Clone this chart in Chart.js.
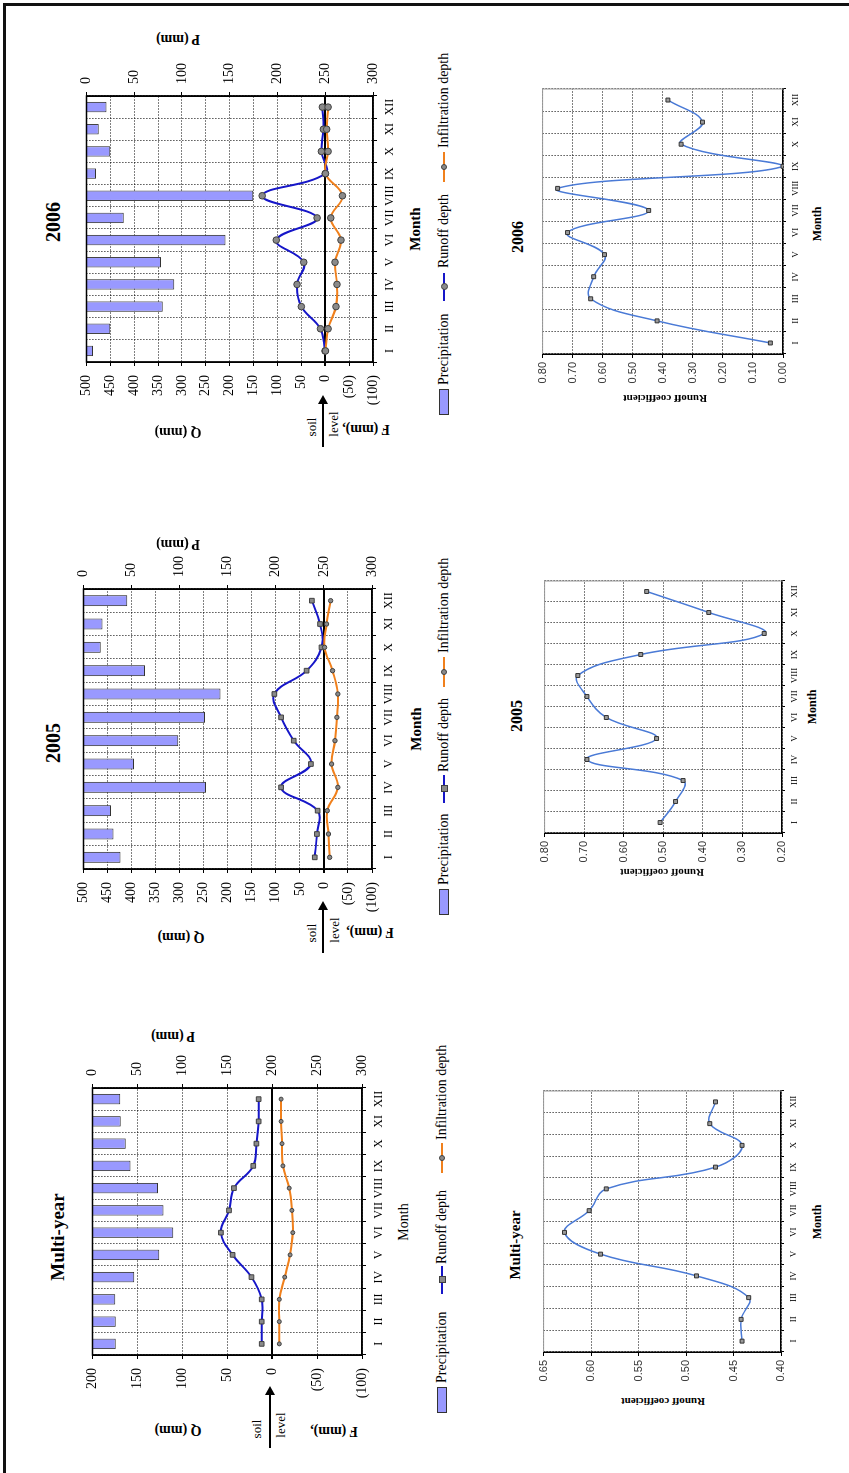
<!DOCTYPE html>
<html>
<head>
    <title>Runoff and infiltration charts</title>
    <script src="https://cdn.jsdelivr.net/npm/chart.js"></script>
    <style>
        html, body { margin: 0; padding: 0; background: #fff; }
        body { width: 849px; height: 1473px; overflow: hidden; position: relative; }
        #frame { position: absolute; left: 3px; top: 3px; width: 846px; height: 1470px;
                 border-top: 3px solid #111; border-left: 3px solid #111; }
        #page { position: absolute; left: 0; top: 0; width: 1473px; height: 849px;
                transform-origin: 0 0; transform: translateY(1473px) rotate(-90deg); }
        #page canvas { position: absolute; }
        .t { position: absolute; transform: translate(-50%, -50%); white-space: nowrap;
             font-family: 'Liberation Serif', serif; color: #000; }
        .r { transform: translate(-50%, -50%) rotate(-90deg); }
        .lg { position: absolute; white-space: nowrap; font: 14px 'Liberation Serif', serif;
              transform: translateY(-50%); }
        .box { position: absolute; background: #9999ff; border: 1px solid #333; box-sizing: border-box; }
        .ln { position: absolute; height: 2px; }
        .mk { position: absolute; background: #8a8a8a; border: 1px solid #404040; box-sizing: border-box; }
        .arrow { position: absolute; height: 2px; background: #000; }
        .arrow:after { content: ''; position: absolute; right: -2px; top: -4px;
                       border-left: 9px solid #000; border-top: 5px solid transparent; border-bottom: 5px solid transparent; }
    </style>
</head>
<body>
<div id="frame"></div>
<div id="page">
    <canvas id="comboMulti"></canvas>
    <canvas id="combo2005"></canvas>
    <canvas id="combo2006"></canvas>
    <canvas id="coefMulti"></canvas>
    <canvas id="coef2005"></canvas>
    <canvas id="coef2006"></canvas>

    <!-- combo chart texts -->
    <div class="t" style="left:236px;top:58px;font-weight:bold;font-size:19px">Multi-year</div>
    <div class="t r" style="left:43px;top:178px;font-weight:bold;font-size:14px">Q (mm)</div>
    <div class="t r" style="left:42px;top:334px;font-weight:bold;font-size:14px">F (mm),</div>
    <div class="t r" style="left:437px;top:173px;font-weight:bold;font-size:14px">P (mm)</div>
    <div class="t" style="left:251px;top:404px;font-size:14px">Month</div>
    <div class="t" style="left:44px;top:257px;font-size:13px">soil</div>
    <div class="t" style="left:48px;top:281px;font-size:13px">level</div>
    <div class="arrow" style="left:25px;top:269px;width:60px"></div>

    <div class="t" style="left:730px;top:53px;font-weight:bold;font-size:20px">2005</div>
    <div class="t r" style="left:536px;top:181px;font-weight:bold;font-size:14px">Q (mm)</div>
    <div class="t r" style="left:541px;top:370px;font-weight:bold;font-size:14px">F (mm),</div>
    <div class="t r" style="left:929px;top:178px;font-weight:bold;font-size:14px">P (mm)</div>
    <div class="t" style="left:744px;top:416px;font-size:15px;font-weight:bold">Month</div>
    <div class="t" style="left:540px;top:312px;font-size:13px">soil</div>
    <div class="t" style="left:543px;top:335px;font-size:13px">level</div>
    <div class="arrow" style="left:520px;top:322px;width:50px"></div>

    <div class="t" style="left:1251px;top:53px;font-weight:bold;font-size:20px">2006</div>
    <div class="t r" style="left:1041px;top:178px;font-weight:bold;font-size:14px">Q (mm)</div>
    <div class="t r" style="left:1044px;top:366px;font-weight:bold;font-size:14px">F (mm),</div>
    <div class="t r" style="left:1434px;top:178px;font-weight:bold;font-size:14px">P (mm)</div>
    <div class="t" style="left:1244px;top:415px;font-size:15px;font-weight:bold">Month</div>
    <div class="t" style="left:1046px;top:312px;font-size:13px">soil</div>
    <div class="t" style="left:1049px;top:334px;font-size:13px">level</div>
    <div class="arrow" style="left:1026px;top:322px;width:50px"></div>

    <!-- runoff coefficient texts -->
    <div class="t" style="left:228px;top:515px;font-weight:bold;font-size:15px">Multi-year</div>
    <div class="t r" style="left:71px;top:663px;font-weight:bold;font-size:11px">Runoff coefficient</div>
    <div class="t" style="left:251px;top:817px;font-weight:bold;font-size:12px">Month</div>

    <div class="t" style="left:757px;top:517px;font-weight:bold;font-size:16px">2005</div>
    <div class="t r" style="left:600px;top:662px;font-weight:bold;font-size:11px">Runoff coefficient</div>
    <div class="t" style="left:766px;top:812px;font-weight:bold;font-size:12px">Month</div>

    <div class="t" style="left:1236px;top:518px;font-weight:bold;font-size:16px">2006</div>
    <div class="t r" style="left:1074px;top:665px;font-weight:bold;font-size:11px">Runoff coefficient</div>
    <div class="t" style="left:1249px;top:817px;font-weight:bold;font-size:12px">Month</div>
</div>
<script>
    const months = ['I', 'II', 'III', 'IV', 'V', 'VI', 'VII', 'VIII', 'IX', 'X', 'XI', 'XII'];

    // multi-year averages (mm)
    const precipMulti = [26, 26, 25.5, 46.5, 74.5, 90, 79, 73, 42.5, 37, 31.5, 31];
    const runoffMulti = [11.6, 11.6, 11.6, 23, 44, 57, 48, 42.5, 21, 17.5, 15, 15];
    const infilMulti = [8, 8, 8, 14, 20, 23, 22, 19, 12, 11, 10, 10];

    // 2005 (mm)
    const precip2005 = [38.5, 31.4, 28.6, 127.5, 52.5, 98.5, 126.5, 142.5, 64, 18, 19.8, 45.7];
    const runoff2005 = [19, 14.5, 13, 89, 27, 62.7, 89, 103, 36, 5, 8, 25];
    const infil2005 = [12, 9.5, 7, 29, 16, 23, 27, 29, 18, 1.4, 5.5, 14];

    // 2006 (mm)
    const precip2006 = [7, 25, 80, 92, 78, 145.5, 39, 174.6, 10, 25, 13, 21];
    const runoff2006 = [0.4, 10, 50, 59, 45, 102.5, 17, 132, 0, 8, 3.8, 6];
    const infil2006 = [0.5, 6, 22.5, 24.6, 20.5, 33, 11.6, 36, 0.5, 6, 3, 6];

    // runoff coefficients
    const coefMulti = [0.441, 0.442, 0.434, 0.489, 0.590, 0.628, 0.602, 0.584, 0.469, 0.441, 0.475, 0.469];
    const coef2005 = [0.508, 0.469, 0.450, 0.693, 0.517, 0.644, 0.693, 0.716, 0.557, 0.245, 0.385, 0.542];
    const coef2006 = [0.042, 0.419, 0.640, 0.630, 0.594, 0.717, 0.447, 0.750, 0.000, 0.339, 0.268, 0.383];

    const serif = 'Liberation Serif';
    const sans = 'Liberation Sans';
    const dots = [1, 2];

    // stroke the plot area outline
    const framePlugin = {
        id: 'frameBox',
        afterDraw(chart, args, opts) {
            if (!opts.color) return;
            const a = chart.chartArea;
            const c = chart.ctx;
            c.save();
            c.strokeStyle = opts.color;
            c.lineWidth = opts.width;
            c.beginPath();
            if (opts.all) {
                c.rect(a.left, a.top, a.right - a.left, a.bottom - a.top);
            } else {
                c.moveTo(a.left, a.top);
                c.lineTo(a.right, a.top);
                c.lineTo(a.right, a.bottom);
            }
            c.stroke();
            c.restore();
        }
    };
    Chart.register(framePlugin);

    // put a canvas so its plot area lands on plot = [x, y, w, h]
    function place(id, plot, pad) {
        const cv = document.getElementById(id);
        cv.width = pad.l + plot[2] + pad.r;
        cv.height = pad.t + plot[3] + pad.b;
        cv.style.left = (plot[0] - pad.l) + 'px';
        cv.style.top = (plot[1] - pad.t) + 'px';
        cv.style.width = cv.width + 'px';
        cv.style.height = cv.height + 'px';
        return cv;
    }

    function qLabel(v) {
        return v < 0 ? '(' + (-v) + ')' : '' + v;
    }

    function isZero(c) {
        return c.tick && c.tick.value === 0;
    }

    function comboChart(id, plot, precip, runoff, infil, qMax, runShape, runR, infR) {
        const pad = { l: 46, r: 40, t: 12, b: 26 };
        const cv = place(id, plot, pad);
        return new Chart(cv, {
            data: {
                labels: months,
                datasets: [
                    {
                        type: 'line', label: 'Runoff depth', data: runoff, yAxisID: 'yQ', order: 1,
                        borderColor: '#1616c8', borderWidth: 2, tension: 0.4,
                        pointStyle: runShape, pointRadius: runR,
                        pointBackgroundColor: '#8a8a8a', pointBorderColor: '#404040', pointBorderWidth: 1
                    },
                    {
                        type: 'line', label: 'Infiltration depth', data: infil.map(v => -v), yAxisID: 'yQ', order: 0,
                        borderColor: '#f0801c', borderWidth: 2, tension: 0.4,
                        pointStyle: 'circle', pointRadius: infR,
                        pointBackgroundColor: '#8a8a8a', pointBorderColor: '#404040', pointBorderWidth: 1
                    },
                    {
                        type: 'bar', label: 'Precipitation', data: precip, yAxisID: 'yP', order: 2,
                        backgroundColor: '#9999ff', borderColor: '#333', borderWidth: 1,
                        barPercentage: 0.47, categoryPercentage: 1
                    }
                ]
            },
            options: {
                responsive: false,
                animation: false,
                events: [],
                layout: { padding: { top: pad.t, left: 0, right: 0, bottom: 0 } },
                plugins: {
                    legend: { display: false },
                    tooltip: { enabled: false },
                    frameBox: { color: '#000', width: 1.5, all: true }
                },
                scales: {
                    x: {
                        offset: true,
                        afterFit: s => { s.height = pad.b; },
                        grid: { offset: true, color: '#000', lineWidth: 1, tickLength: 4, tickColor: '#000', tickBorderDash: [] },
                        border: { color: '#000', width: 1.5, dash: dots },
                        ticks: { color: '#000', font: { family: serif, size: 12 }, padding: 6, maxRotation: 0, autoSkip: false }
                    },
                    yQ: {
                        position: 'left', min: -100, max: qMax,
                        afterFit: s => { s.width = pad.l; },
                        grid: {
                            color: '#000',
                            lineWidth: c => isZero(c) ? 2 : 1,
                            tickLength: 4, tickColor: '#000', tickBorderDash: []
                        },
                        border: { color: '#000', width: 1.5, dash: c => isZero(c) ? [] : dots },
                        ticks: { stepSize: 50, color: '#000', font: { family: serif, size: 14 }, padding: 9, callback: qLabel }
                    },
                    yP: {
                        position: 'right', min: 0, max: 300, reverse: true,
                        afterFit: s => { s.width = pad.r; },
                        grid: { drawOnChartArea: false, tickLength: 4, tickColor: '#000' },
                        border: { color: '#000', width: 1.5 },
                        ticks: { stepSize: 50, color: '#000', font: { family: serif, size: 14 }, padding: 8 }
                    }
                }
            }
        });
    }

    function coefChart(id, plot, values, min, max, step) {
        const pad = { l: 40, r: 6, t: 10, b: 22 };
        const cv = place(id, plot, pad);
        return new Chart(cv, {
            type: 'line',
            data: {
                labels: months,
                datasets: [{
                    label: 'Runoff coefficient', data: values,
                    borderColor: '#4a7ad6', borderWidth: 1.5, tension: 0.4,
                    pointStyle: 'rect', pointRadius: 2.8,
                    pointBackgroundColor: '#9a9a9a', pointBorderColor: '#333', pointBorderWidth: 1
                }]
            },
            options: {
                responsive: false,
                animation: false,
                events: [],
                layout: { padding: { top: pad.t, left: 0, right: pad.r, bottom: 0 } },
                plugins: {
                    legend: { display: false },
                    tooltip: { enabled: false },
                    frameBox: { color: '#999', width: 1, all: false }
                },
                scales: {
                    x: {
                        offset: true,
                        afterFit: s => { s.height = pad.b; },
                        grid: { offset: true, color: '#000', lineWidth: 1, tickLength: 3, tickColor: '#000', tickBorderDash: [] },
                        border: { color: '#000', width: 1.5, dash: dots },
                        ticks: { color: '#000', font: { family: serif, size: 9 }, padding: 4, maxRotation: 0, autoSkip: false }
                    },
                    y: {
                        min: min, max: max,
                        afterFit: s => { s.width = pad.l; },
                        grid: { color: '#000', lineWidth: 1, tickLength: 4, tickColor: '#000', tickBorderDash: [] },
                        border: { color: '#000', width: 1.5, dash: dots },
                        ticks: { stepSize: step, color: '#333', font: { family: sans, size: 11 }, padding: 4,
                                 callback: v => v.toFixed(2) }
                    }
                }
            }
        });
    }

    comboChart('comboMulti', [118, 87, 267, 275], precipMulti, runoffMulti, infilMulti, 200, 'rect', 3.3, 2);
    comboChart('combo2005', [604, 78, 280, 294], precip2005, runoff2005, infil2005, 500, 'rect', 3.3, 2.2);
    comboChart('combo2006', [1111, 81, 266, 292], precip2006, runoff2006, infil2006, 500, 'circle', 3.3, 3.3);

    coefChart('coefMulti', [121, 543, 261, 238], coefMulti, 0.40, 0.65, 0.05);
    coefChart('coef2005', [640, 544, 252, 238], coef2005, 0.20, 0.80, 0.10);
    coefChart('coef2006', [1119, 542, 265, 241], coef2006, 0.00, 0.80, 0.10);

    // legends under the combo charts
    const page = document.getElementById('page');
    function add(cls, css, text) {
        const d = document.createElement('div');
        d.className = cls;
        d.style.cssText = css;
        if (text) d.textContent = text;
        page.appendChild(d);
    }
    function legend(y, xs, runShape) {
        add('box', `left:${xs[0]}px;top:${y - 5}px;width:26px;height:10px`);
        add('lg', `left:${xs[1]}px;top:${y}px`, 'Precipitation');
        add('ln', `left:${xs[2]}px;top:${y - 1}px;width:28px;background:#1616c8`);
        add('mk', `left:${xs[2] + 11}px;top:${y - 3}px;width:7px;height:7px;` + (runShape === 'circle' ? 'border-radius:50%' : ''));
        add('lg', `left:${xs[3]}px;top:${y}px`, 'Runoff depth');
        add('ln', `left:${xs[4]}px;top:${y - 1}px;width:30px;background:#f0801c`);
        add('mk', `left:${xs[4] + 12}px;top:${y - 3}px;width:6px;height:6px;border-radius:50%`);
        add('lg', `left:${xs[5]}px;top:${y}px`, 'Infiltration depth');
    }
    legend(442, [60, 90, 179, 209, 300, 333], 'rect');
    legend(444, [558, 588, 670, 701, 786, 820], 'rect');
    legend(444, [1058, 1088, 1172, 1205, 1291, 1325], 'circle');
</script>
</body>
</html>
